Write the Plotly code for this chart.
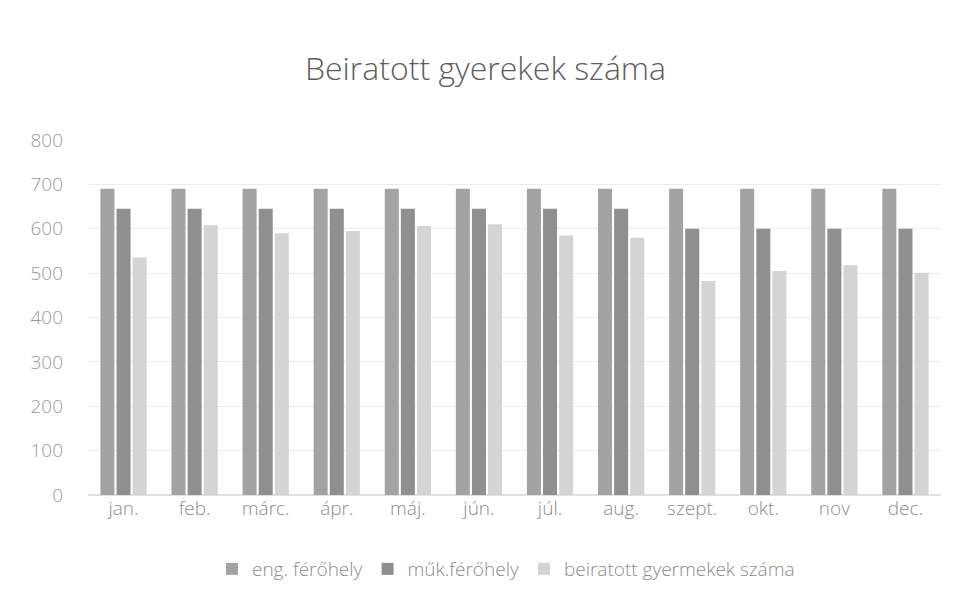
import plotly.graph_objects as go

months = ["jan.", "feb.", "márc.", "ápr.", "máj.", "jún.", "júl.", "aug.", "szept.", "okt.", "nov", "dec."]
eng_ferohely = [690, 690, 690, 690, 690, 690, 690, 690, 690, 690, 690, 690]
muk_ferohely = [645, 645, 645, 645, 645, 645, 645, 645, 600, 600, 600, 600]
beiratott = [535, 608, 590, 595, 606, 610, 585, 580, 482, 505, 518, 501]

series_names = ["eng. férőhely", "műk.férőhely", "beiratott gyermekek száma"]
colors = ["#a3a3a3", "#8f8f8f", "#d4d4d4"]

fig = go.Figure()
for name, vals, col in zip(series_names, [eng_ferohely, muk_ferohely, beiratott], colors):
    fig.add_trace(go.Bar(x=months, y=vals, name=name, marker=dict(color=col, line=dict(width=0))))

fig.update_layout(
    width=955, height=604,
    paper_bgcolor="white", plot_bgcolor="white",
    barmode="group", bargap=0.32, bargroupgap=0.13,
    font=dict(family="Open Sans, Liberation Sans, sans-serif", color="#8c8c8c", size=18),
    title=dict(text="Beiratott gyerekek száma", x=0.5, xanchor="center", y=0.9, yanchor="middle",
               font=dict(size=32, color="#5e5e5e", weight=300)),
    margin=dict(l=80, r=22, t=132, b=117),
    xaxis=dict(showgrid=False, showline=False, ticks="", tickfont=dict(size=19, color="#8c8c8c", weight=300)),
    yaxis=dict(range=[0, 800], dtick=100, showgrid=True, gridcolor="#ececec", gridwidth=1,
               zeroline=True, zerolinecolor="#e0e0e0", ticks="", ticklabelstandoff=24,
               tickfont=dict(size=19, color="#9a9a9a", weight=300)),
    legend=dict(orientation="h", x=0.49, xanchor="center", y=-0.155, yanchor="top",
                font=dict(size=19, color="#8c8c8c", weight=300), itemwidth=30),
)

fig.write_html("out.html")
